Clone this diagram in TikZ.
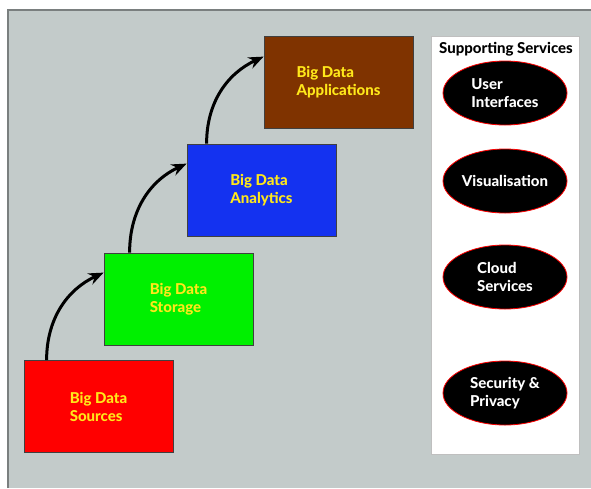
\documentclass[tikz,border=0pt]{standalone}
\usepackage{fontspec}
\setmainfont{Lato}[BoldFont={Lato Heavy}]
\usetikzlibrary{arrows.meta,shapes.geometric}

\definecolor{panelgray}{HTML}{C3CBCA}
\definecolor{edgegray}{HTML}{7A7F7F}
\definecolor{stageyellow}{HTML}{FFE81A}
\definecolor{srcred}{HTML}{FF0000}
\definecolor{stogreen}{HTML}{00F000}
\definecolor{anablue}{HTML}{1432F0}
\definecolor{appbrown}{HTML}{7F3300}

\tikzset{
  stage/.style={draw=black!75, line width=0.8pt, minimum width=149pt,
    minimum height=92pt, inner sep=0pt, text=stageyellow, align=left,
    font=\bfseries\fontsize{15}{18}\selectfont},
  service/.style={ellipse, fill=black, draw=red, line width=0.8pt,
    minimum width=124pt, minimum height=64pt, inner sep=0pt, text=white,
    align=left, font=\bfseries\fontsize{15}{18}\selectfont},
  flow/.style={line width=3pt, black,
    -{Stealth[length=15pt,width=12pt,inset=5pt]}}
}

\begin{document}
\begin{tikzpicture}[x=1pt,y=-1pt]
  \useasboundingbox (0,0) rectangle (591,488);
  \fill[white] (0,0) rectangle (591,488);
  % grey panel with its darker top and left rims
  \fill[panelgray] (8,10) rectangle (591,488);
  \draw[edgegray, line width=1.2pt] (8,488) -- (8,10) -- (591,10);

  % the four stages
  \node[stage, fill=srcred]   (src) at (98.5,406.5) {Big Data\\Sources};
  \node[stage, fill=stogreen] (sto) at (178.5,299)  {Big Data\\Storage};
  \node[stage, fill=anablue]  (ana) at (261.5,190)  {Big Data\\Analytics};
  \node[stage, fill=appbrown] (app) at (338.5,82)   {Big Data\\Applications};

  % curved arrows climbing from stage to stage
  \draw[flow] ([xshift=23pt]src.north west) to[out=90,in=205] ([yshift=-20pt]sto.north west);
  \draw[flow] ([xshift=26pt]sto.north west) to[out=90,in=205] ([yshift=-20pt]ana.north west);
  \draw[flow] ([xshift=20pt]ana.north west) to[out=90,in=205] ([yshift=-21pt]app.north west);

  % supporting services column
  \node[fill=white, draw=black!25, line width=0.6pt, minimum width=148pt,
        minimum height=418pt, inner sep=0pt] (panel) at (505,245) {};
  \node[font=\bfseries\fontsize{15}{18}\selectfont] (title) at (506,49) {Supporting Services};
  \node[service] (ui)  at (505,93)  {User\\Interfaces};
  \node[service] (vis) at (505,181) {Visualisation};
  \node[service] (cld) at (505,277) {Cloud\\Services};
  \node[service] (sec) at (505,393) {Security \&\\Privacy};
\end{tikzpicture}
\end{document}
